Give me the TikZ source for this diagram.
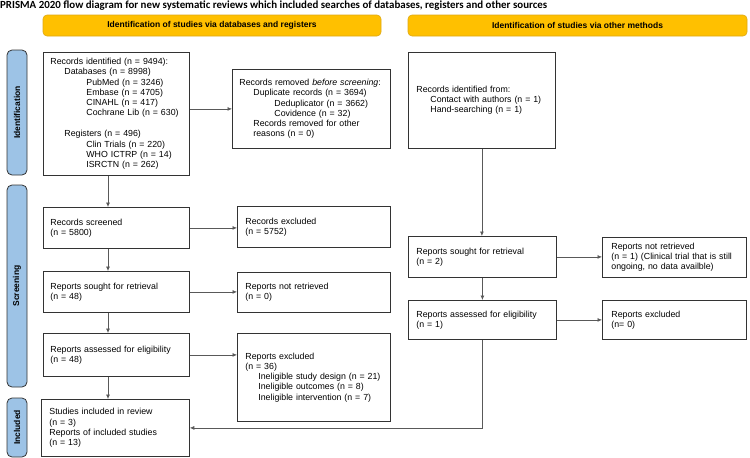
\documentclass[tikz,border=0pt]{standalone}
\usepackage{fontspec}
\setmainfont{Liberation Sans}
\newfontfamily\titlefont{Carlito}
\usetikzlibrary{arrows.meta}
\definecolor{headfill}{RGB}{255,192,0}
\definecolor{headline}{RGB}{222,168,20}
\definecolor{sidefill}{RGB}{157,195,230}

\begin{document}
\begin{tikzpicture}[x=1pt,y=-1pt,
    box/.style={draw=black!80, line width=0.8pt, anchor=north west, align=left,
        inner xsep=7pt, inner ysep=0pt, font=\fontsize{8.8}{10.2}\selectfont},
    head/.style={draw=headline, fill=headfill, rounded corners=4pt, line width=0.6pt},
    side/.style={draw=black!80, fill=sidefill, rounded corners=5pt, line width=0.8pt},
    arr/.style={draw=black!65, line width=0.7pt, -{Latex[length=4.5pt,width=4pt]}}]
\useasboundingbox (0,0) rectangle (750,458);

% Title
\node[anchor=north west, inner sep=0pt, font=\titlefont\bfseries\fontsize{10.9}{12}\selectfont] (title) at (0,0.5)
  {PRISMA 2020 flow diagram for new systematic reviews which included searches of databases, registers and other sources};

% Column headers
\draw[head] (43,15) rectangle (381,36);
\node[font=\bfseries\fontsize{8.5}{10}\selectfont] (hdb) at (212,25.5) {Identification of studies via databases and registers};
\draw[head] (408,15) rectangle (747,36);
\node[font=\bfseries\fontsize{8.5}{10}\selectfont] (hother) at (577.5,25.5) {Identification of studies via other methods};

% Stage labels
\foreach \ya/\yb/\name in {50/175/Identification, 185/387/Screening, 398/457/Included} {
    \draw[side] (7,\ya) rectangle (27,\yb);
    \node[rotate=90, font=\bfseries\fontsize{8.5}{10}\selectfont] at (17,{(\ya+\yb)/2}) {\name};
}

% Databases and registers
\node[box, text width=132pt, minimum height=123pt] (ident) at (43,52) {Records identified (n = 9494):\\
  \hspace*{14pt}Databases (n = 8998)\\
  \hspace*{36pt}PubMed (n = 3246)\\
  \hspace*{36pt}Embase (n = 4705)\\
  \hspace*{36pt}CINAHL (n = 417)\\
  \hspace*{36pt}Cochrane Lib (n = 630)\\[11pt]
  \hspace*{14pt}Registers (n = 496)\\
  \hspace*{36pt}Clin Trials (n = 220)\\
  \hspace*{36pt}WHO ICTRP (n = 14)\\
  \hspace*{36pt}ISRCTN (n = 262)};
\node[box, text width=144pt, minimum height=79pt] (removed) at (232,69) {Records removed \emph{before screening}:\\
  \hspace*{14pt}Duplicate records (n = 3694)\\
  \hspace*{35pt}Deduplicator (n = 3662)\\
  \hspace*{35pt}Covidence (n = 32)\\
  \hspace*{14pt}Records removed for other\\
  \hspace*{14pt}reasons (n = 0)};
\node[box, text width=132pt, minimum height=41pt] (screened) at (43,207) {Records screened\\(n = 5800)};
\node[box, inner xsep=8pt, text width=137pt, minimum height=41pt] (excl) at (237,206) {Records excluded\\(n = 5752)};
\node[box, text width=132pt, minimum height=41pt] (sought) at (43,271) {Reports sought for retrieval\\(n = 48)};
\node[box, inner xsep=8pt, text width=137pt, minimum height=40pt] (notret) at (237,272) {Reports not retrieved\\(n = 0)};
\node[box, text width=132pt, minimum height=43pt] (assessed) at (43,333) {Reports assessed for eligibility\\(n = 48)};
\node[box, inner xsep=8pt, text width=137pt, minimum height=88pt] (rexcl) at (237,333) {Reports excluded\\(n = 36)\\
  \hspace*{13pt}Ineligible study design (n = 21)\\
  \hspace*{13pt}Ineligible outcomes (n = 8)\\
  \hspace*{13pt}Ineligible intervention (n = 7)};
\node[box, inner xsep=8pt, text width=132pt, minimum height=57pt] (incl) at (41,399) {Studies included in review\\(n = 3)\\Reports of included studies\\(n = 13)};

% Other methods
\node[box, inner xsep=8pt, text width=131pt, minimum height=96pt] (other) at (408,52) {Records identified from:\\
  \hspace*{14pt}Contact with authors (n = 1)\\
  \hspace*{14pt}Hand-searching (n = 1)};
\node[box, inner xsep=8pt, text width=132pt, minimum height=41pt] (osought) at (408,236) {Reports sought for retrieval\\(n = 2)};
\node[box, inner xsep=9pt, text width=126pt, minimum height=40pt] (onotret) at (602,237) {Reports not retrieved\\(n = 1) (Clinical trial that is still\\ongoing, no data availble)};
\node[box, inner xsep=8pt, text width=132pt, minimum height=39pt] (oassessed) at (408,300) {Reports assessed for eligibility\\(n = 1)};
\node[box, inner xsep=9pt, text width=126pt, minimum height=39pt] (oexcl) at (602,300) {Reports excluded\\(n= 0)};

% Connectors
\coordinate (lx) at (108,0);
\foreach \a/\b in {ident/screened, screened/sought, sought/assessed, assessed/incl} {
    \draw[arr] (\a.south -| lx) -- (\b.north -| lx);
}
\draw[arr] (removed.west -| ident.east) -- (removed.west);
\foreach \a/\b in {screened/excl, sought/notret, assessed/rexcl, osought/onotret, oassessed/oexcl} {
    \draw[arr] (\a.east) -- (\a.east -| \b.west);
}
\draw[arr] (other.south) -- (other.south |- osought.north);
\draw[arr] (osought.south) -- (osought.south |- oassessed.north);
\draw[arr] (oassessed.south) |- (incl.east);

\end{tikzpicture}
\end{document}
